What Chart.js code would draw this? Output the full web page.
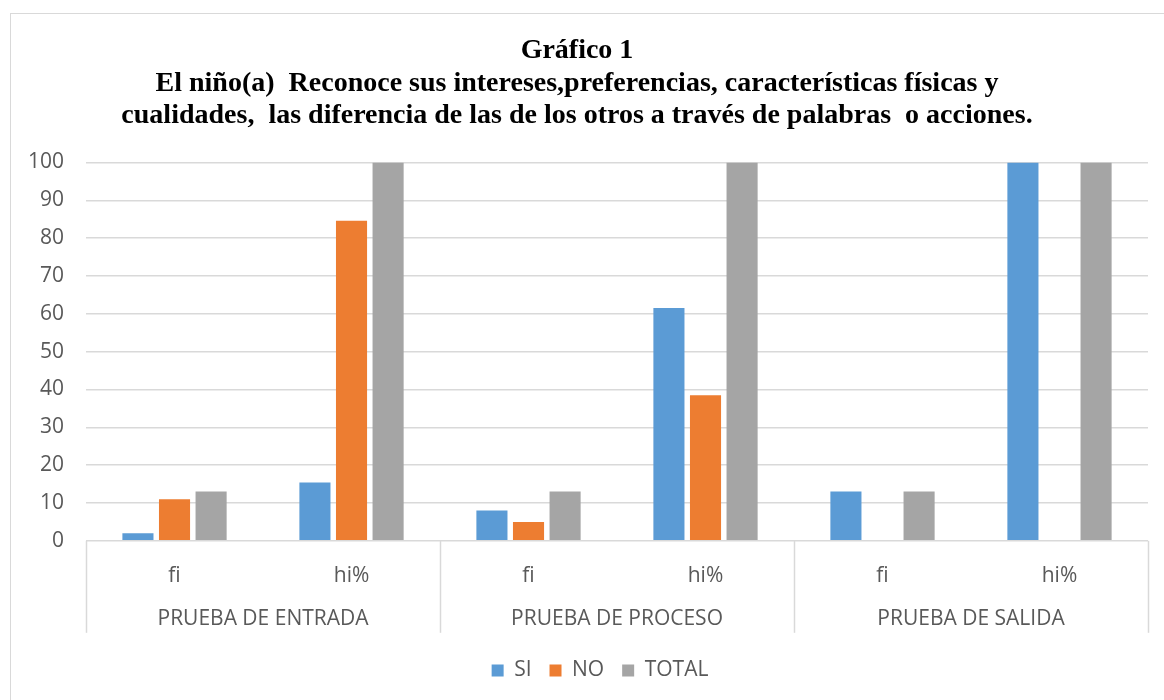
<!DOCTYPE html>
<html>
<head>
<meta charset="utf-8">
<script src="https://cdn.jsdelivr.net/npm/chart.js@4.4.1/dist/chart.umd.min.js"></script>
<style>
  html, body { margin: 0; padding: 0; background: #fff; }
  #frame { position: absolute; left: 10px; top: 13px; width: 1200px; height: 720px; border: 1px solid #d9d9d9; }
  #wrap { position: absolute; left: 0; top: 0; width: 1164px; height: 700px; }
</style>
</head>
<body>
<div id="frame"></div>
<div id="wrap"><canvas id="chart"></canvas></div>
<script>
// values (hi% = fi / 13 * 100)
var groups = ["PRUEBA DE ENTRADA", "PRUEBA DE PROCESO", "PRUEBA DE SALIDA"];
var subCats = ["fi", "hi%"];
var siValues = [2, 15.38, 8, 61.54, 13, 100];
var noValues = [11, 84.62, 5, 38.46, 0, 0];
var totalValues = [13, 100, 13, 100, 13, 100];
var yTicks = [0, 10, 20, 30, 40, 50, 60, 70, 80, 90, 100];
var titleLines = [
  "Gráfico 1",
  "El niño(a)  Reconoce sus intereses,preferencias, características físicas y",
  "cualidades,  las diferencia de las de los otros a través de palabras  o acciones."
];

var labels = [];
groups.forEach(function() { subCats.forEach(function(s) { labels.push(s); }); });

var gridColor = "#d9d9d9";
var textColor = "#595959";
var sansFont = "'Open Sans', 'Noto Sans', sans-serif";
var axisFontSize = 21;

// second level of the category axis: group names and vertical dividers
var groupAxis = {
  id: "groupAxis",
  afterLayout: function(chart) {
    // Excel centres the legend a bit right of the canvas centre
    if (chart.legend) { chart.legend.left += 23; chart.legend.right += 23; }
  },
  afterDraw: function(chart) {
    var x = chart.scales.x, area = chart.chartArea;
    var ctx = chart.ctx;
    var per = subCats.length;
    var xs = [area.left];
    for (var g = 1; g < groups.length; g++) {
      xs.push((x.getPixelForTick(g * per - 1) + x.getPixelForTick(g * per)) / 2);
    }
    xs.push(area.right);
    ctx.save();
    ctx.strokeStyle = gridColor;
    ctx.lineWidth = 1.5;
    xs.forEach(function(px) {
      ctx.beginPath();
      ctx.moveTo(Math.round(px) + 0.5, area.bottom);
      ctx.lineTo(Math.round(px) + 0.5, x.bottom);
      ctx.stroke();
    });
    ctx.fillStyle = textColor;
    ctx.font = axisFontSize + "px " + sansFont;
    ctx.textAlign = "center";
    ctx.textBaseline = "middle";
    groups.forEach(function(name, g) {
      var cx = (xs[g] + xs[g + 1]) / 2;
      ctx.fillText(name, cx, x.bottom - 14);
    });
    ctx.restore();
  }
};

new Chart(document.getElementById("chart").getContext("2d"), {
  type: "bar",
  data: {
    labels: labels,
    datasets: [
      { label: "SI", data: siValues, backgroundColor: "#5b9bd5" },
      { label: "NO", data: noValues, backgroundColor: "#ed7d31" },
      { label: "TOTAL", data: totalValues, backgroundColor: "#a5a5a5" }
    ]
  },
  options: {
    responsive: true,
    maintainAspectRatio: false,
    animation: false,
    datasets: { bar: { categoryPercentage: 0.62, barPercentage: 0.85 } },
    layout: { padding: { top: 35, right: 16, left: 6, bottom: 9 } },
    plugins: {
      title: {
        display: true,
        text: titleLines,
        color: "#000",
        font: { family: "'Liberation Serif', 'Times New Roman', serif", size: 28, weight: "bold", lineHeight: 1.16 },
        padding: { top: 0, bottom: 30 }
      },
      legend: {
        position: "bottom",
        title: { display: true, text: " ", font: { size: 1, lineHeight: 1.2 }, padding: 4 },
        labels: { color: textColor, boxWidth: 12, boxHeight: 12, padding: 18, font: { family: sansFont, size: axisFontSize } }
      },
      tooltip: { enabled: false }
    },
    scales: {
      y: {
        min: 0,
        max: 100,
        afterBuildTicks: function(axis) { axis.ticks = yTicks.map(function(v) { return { value: v }; }); },
        ticks: { color: textColor, padding: 22, font: { family: sansFont, size: axisFontSize } },
        grid: { color: gridColor, lineWidth: 1.5, drawTicks: false },
        border: { display: false }
      },
      x: {
        ticks: { color: textColor, padding: 23, font: { family: sansFont, size: axisFontSize } },
        grid: { display: false, drawTicks: false },
        border: { display: false },
        afterFit: function(axis) { axis.height = 92; }
      }
    }
  },
  plugins: [groupAxis]
});
</script>
</body>
</html>
